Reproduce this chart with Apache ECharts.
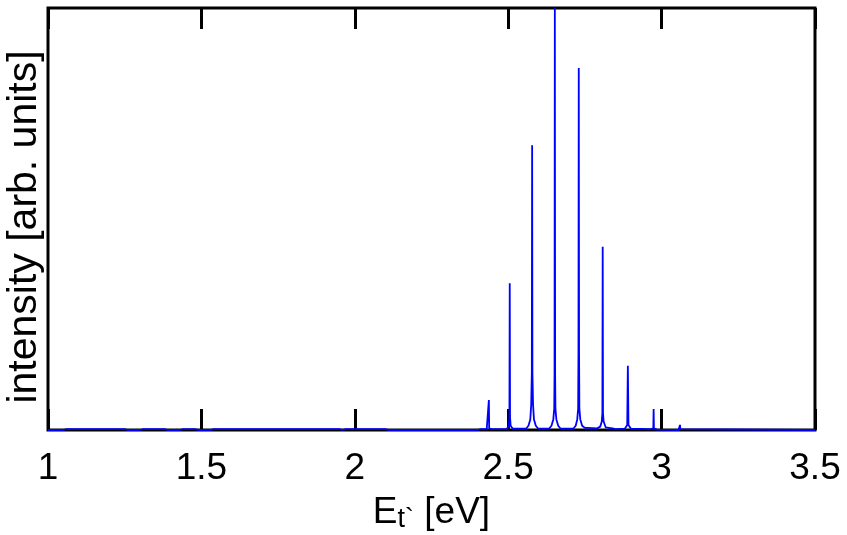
<!DOCTYPE html>
<html>
<head>
<meta charset="utf-8">
<script src="https://cdn.jsdelivr.net/npm/echarts@6/dist/echarts.min.js"></script>
<style>
html,body{margin:0;padding:0;background:#fff;}
#chart{width:847px;height:535px;}
</style>
</head>
<body>
<div id="chart"></div>
<script>
// Spectrum (photon energy in eV, intensity in arb. units)
var energy = [
  1.00, 1.05, 1.06, 1.25, 1.26, 1.30, 1.31, 1.38, 1.39, 1.43, 1.44, 1.48, 1.49, 1.53, 1.54, 1.95, 1.96, 1.97, 2.10, 2.11,
  2.40, 2.41, 2.43, 2.436, 2.437, 2.438, 2.445,
  2.495, 2.502, 2.504, 2.505, 2.506, 2.508, 2.515,
  2.558, 2.566, 2.572, 2.575, 2.577, 2.578, 2.579, 2.581, 2.584, 2.590, 2.598,
  2.633, 2.641, 2.647, 2.650, 2.651, 2.652, 2.653, 2.654, 2.657, 2.663, 2.671,
  2.712, 2.720, 2.725, 2.728, 2.729, 2.730, 2.731, 2.732, 2.735, 2.741, 2.750,
  2.760, 2.790,
  2.800, 2.805, 2.807, 2.808, 2.809, 2.811, 2.818, 2.840, 2.850,
  2.880, 2.888, 2.890, 2.892, 2.900,
  2.965, 2.973, 2.974, 2.975, 2.985,
  3.055, 3.059, 3.060, 3.061, 3.065,
  3.50
];
var intensity = [
  0, 0, 0.002, 0.002, 0, 0, 0.002, 0.002, 0, 0, 0.002, 0.002, 0, 0, 0.002, 0.002, 0, 0.002, 0.002, 0,
  0, 0.002, 0.002, 0.004, 0.071, 0.004, 0.002,
  0.002, 0.010, 0.030, 0.348, 0.030, 0.010, 0.003,
  0.003, 0.010, 0.025, 0.060, 0.135, 0.675, 0.135, 0.060, 0.025, 0.010, 0.003,
  0.003, 0.010, 0.025, 0.050, 0.130, 1.000, 0.130, 0.050, 0.025, 0.010, 0.003,
  0.003, 0.010, 0.025, 0.050, 0.178, 0.858, 0.178, 0.050, 0.025, 0.010, 0.005,
  0.005, 0.004,
  0.008, 0.020, 0.040, 0.434, 0.040, 0.020, 0.006, 0.004, 0.002,
  0.003, 0.012, 0.152, 0.012, 0.003,
  0.002, 0.004, 0.050, 0.004, 0.001,
  0, 0.002, 0.012, 0.002, 0,
  0
];
var xTicks = [1, 1.5, 2, 2.5, 3, 3.5];
var xMin = 1, xMax = 3.5, xStep = 0.5;
var yMin = 0, yMax = 1;

var spectrum = energy.map(function (e, i) { return [e, intensity[i]]; });

var chart = echarts.init(document.getElementById('chart'), null, {renderer: 'canvas'});
var font = '"Liberation Sans", Arial, Helvetica, sans-serif';
chart.setOption({
  animation: false,
  backgroundColor: '#fff',
  grid: {
    left: 48, right: 32, top: 8, bottom: 105,
    containLabel: false, outerBoundsMode: 'none',
    show: true, borderColor: '#000', borderWidth: 3, backgroundColor: 'transparent'
  },
  xAxis: [{
    type: 'value', min: xMin, max: xMax, interval: xStep, position: 'bottom',
    axisLine: {show: false},
    axisTick: {show: true, inside: true, length: 21, lineStyle: {color: '#000', width: 3}},
    splitLine: {show: false},
    axisLabel: {
      margin: 20, color: '#000', fontFamily: font, fontSize: 37, lineHeight: 37,
      formatter: function (v) { return String(+v.toFixed(2)); }
    },
    name: '{e|E}{s|t`}{e| [eV]}',
    nameLocation: 'middle', nameGap: 64,
    nameTextStyle: {
      color: '#000', fontFamily: font,
      rich: {
        e: {fontSize: 37, lineHeight: 37, fontFamily: font, color: '#000', verticalAlign: 'top'},
        s: {fontSize: 27, lineHeight: 27, fontFamily: font, color: '#000', verticalAlign: 'top', padding: [12, 0, 0, 0]}
      }
    }
  }, {
    type: 'value', min: xMin, max: xMax, interval: xStep, position: 'top',
    axisLine: {show: false},
    axisTick: {show: true, inside: true, length: 21, lineStyle: {color: '#000', width: 3}},
    splitLine: {show: false},
    axisLabel: {show: false}
  }],
  yAxis: {
    type: 'value', min: yMin, max: yMax,
    axisLine: {show: false}, axisTick: {show: false}, axisLabel: {show: false}, splitLine: {show: false},
    name: 'intensity [arb. units]',
    nameLocation: 'middle', nameRotate: 90, nameGap: 3,
    nameTextStyle: {color: '#000', fontFamily: font, fontSize: 41, padding: [0, 16, 0, 0]}
  },
  series: [{
    type: 'line',
    xAxisIndex: 0,
    data: spectrum,
    showSymbol: false,
    symbol: 'none',
    clip: true,
    lineStyle: {color: '#0000ff', width: 1.8},
    z: 3
  }]
});
</script>
</body>
</html>
